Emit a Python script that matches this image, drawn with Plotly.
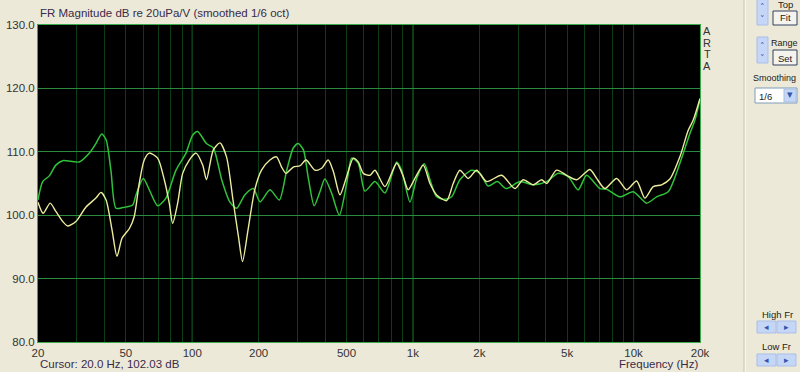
import plotly.graph_objects as go

# ---------------- data ----------------
green_freq = [20, 21.0, 22.5, 24.1, 25.9, 30.8, 34.2, 36.6, 38.9, 40.7, 42.8, 45.1, 48.4, 53.7,
              55.6, 60.0, 63.9, 69.7, 76.0, 84.4, 93.7, 100.4, 105.8, 116, 124.6, 136, 148, 159,
              173, 189, 203, 225, 248, 268, 287, 302, 319, 336, 357, 379, 399, 428, 464, 501,
              528, 565, 606, 673, 747, 844, 889, 970, 1040, 1126, 1195, 1281, 1397, 1498, 1633,
              1846, 2013, 2195, 2412, 2650, 3055, 3510, 4036, 4555, 5057, 5611, 6128, 7038,
              7550, 8670, 9964, 11456, 12718, 14352, 16212, 18004, 18970, 20000]
green_db = [102.4, 105.3, 106.2, 107.9, 108.6, 108.4, 109.8, 111.3, 112.8, 111.9, 107.1, 101.1,
            101.2, 101.6, 103.2, 105.8, 104.0, 101.5, 102.7, 107.1, 109.8, 112.6, 113.2, 111.3,
            110.6, 105.6, 102.1, 101.1, 103.2, 104.2, 102.1, 104.0, 102.4, 107.1, 110.6, 111.3,
            110.3, 105.8, 101.5, 103.7, 105.7, 103.5, 100.0, 105.0, 109.0, 108.2, 103.8, 105.3,
            103.5, 108.4, 107.1, 102.1, 105.8, 108.1, 105.6, 102.9, 102.5, 102.9, 105.6, 107.1,
            106.6, 104.6, 105.3, 104.2, 105.3, 104.8, 105.3, 106.6, 106.1, 104.0, 106.3, 104.2,
            104.1, 102.9, 103.7, 101.9, 102.9, 103.7, 108.2, 112.9, 115.0, 118.2]

yellow_freq = [20, 21.1, 22.7, 24.1, 25.9, 27.3, 29.7, 33.0, 36.6, 38.6, 40.7, 43.3, 45.6, 48.1,
               51.9, 54.6, 57.5, 60.6, 63.9, 69.7, 74.7, 78.7, 81.5, 85.9, 90.5, 97.0, 104,
               111.5, 116, 124.6, 133.5, 143, 153, 162, 169, 179, 192, 206, 225, 241, 254, 266,
               287, 308, 328, 360, 386, 413, 436, 467, 501, 537, 565, 596, 639, 673, 747, 844,
               904, 952, 1021, 1114, 1195, 1281, 1422, 1523, 1633, 1781, 1944, 2158, 2524, 2900,
               3162, 3510, 3830, 4036, 4480, 4973, 5520, 6340, 6801, 7414, 8378, 9300, 10322,
               11254, 12275, 13398, 14610, 16212, 17688, 18636, 20000]
yellow_db = [102.03, 100.3, 101.9, 100.6, 99.0, 98.3, 99.0, 101.3, 102.7, 103.6, 102.4, 97.7,
             93.5, 96.4, 97.9, 99.8, 105.0, 108.7, 109.8, 109.0, 105.6, 101.9, 98.7, 101.9,
             106.6, 108.7, 109.8, 107.9, 105.6, 110.3, 111.4, 109.2, 102.4, 96.6, 92.7, 97.7,
             104.0, 107.1, 108.7, 109.2, 107.6, 106.6, 107.6, 107.8, 108.7, 107.1, 107.4, 108.7,
             106.9, 103.2, 106.1, 109.0, 108.4, 106.6, 106.3, 107.1, 104.5, 108.2, 106.1, 104.0,
             105.8, 107.9, 105.0, 103.2, 102.3, 105.0, 107.1, 105.8, 107.1, 105.3, 106.3, 104.2,
             105.6, 104.8, 105.6, 105.0, 107.1, 106.3, 105.6, 107.2, 105.8, 104.2, 105.8, 104.0,
             105.4, 102.7, 104.5, 104.8, 105.7, 109.2, 113.4, 115.0, 118.4]

grid_freqs = [20, 30, 40, 50, 60, 70, 80, 90, 100, 200, 300, 400, 500, 600, 700, 800, 900,
              1000, 2000, 3000, 4000, 5000, 6000, 7000, 8000, 9000, 10000, 20000]
labeled = {20: "20", 50: "50", 100: "100", 200: "200", 500: "500", 1000: "1k", 2000: "2k",
           5000: "5k", 10000: "10k", 20000: "20k"}
x_ticktext = [labeled.get(f, "") for f in grid_freqs]
decades = [100, 1000, 10000]
y_ticks = [80, 90, 100, 110, 120, 130]
y_ticktext = ["80.0", "90.0", "100.0", "110.0", "120.0", "130.0"]

# ---------------- layout helpers (pixel -> paper) ----------------
L, R, T, B = 38, 700, 25, 342
W, H = 800, 372


def PX(px):
    return (px - L) / (R - L)


def PY(py):
    return (B - py) / (B - T)


BG = "#ECE9D8"
TXT = "#3a2a4a"
GRID_MINOR = "#0b3d15"
GRID_MAJOR = "#2a8a40"

fig = go.Figure()
fig.add_trace(go.Scatter(x=green_freq, y=green_db, mode="lines",
                         line=dict(color="#2fc23a", width=1.5, shape="spline", smoothing=0.7), hoverinfo="skip"))
fig.add_trace(go.Scatter(x=yellow_freq, y=yellow_db, mode="lines",
                         line=dict(color="#ecec9e", width=1.4, shape="spline", smoothing=0.7), hoverinfo="skip"))

shapes = []
for d in decades:
    shapes.append(dict(type="line", xref="x", yref="paper", x0=d, x1=d, y0=0, y1=1, layer="between",
                       line=dict(color=GRID_MAJOR, width=1)))

# right-side control panel decorations
shapes.append(dict(type="line", xref="paper", yref="paper", x0=PX(745), x1=PX(745), y0=PY(0), y1=PY(372),
                   line=dict(color="#ffffff", width=1)))
shapes.append(dict(type="line", xref="paper", yref="paper", x0=PX(744), x1=PX(744), y0=PY(0), y1=PY(372),
                   line=dict(color="#c8c4b0", width=1)))
spin_fill = "#c6d6f7"
spin_line = "#a9bfe8"
for (x0, y0, x1, y1) in [(757, -2, 768, 25), (757, 37, 768, 63)]:
    shapes.append(dict(type="rect", xref="paper", yref="paper", x0=PX(x0), x1=PX(x1), y0=PY(y0), y1=PY(y1),
                       fillcolor=spin_fill, line=dict(color=spin_line, width=1)))
for (x0, y0, x1, y1) in [(773, 11, 797, 25), (773, 50, 797, 65)]:
    shapes.append(dict(type="rect", xref="paper", yref="paper", x0=PX(x0), x1=PX(x1), y0=PY(y0), y1=PY(y1),
                       fillcolor="#f4f3ee", line=dict(color="#33415c", width=1)))
# dropdown
shapes.append(dict(type="rect", xref="paper", yref="paper", x0=PX(755), x1=PX(797), y0=PY(88), y1=PY(103),
                   fillcolor="#ffffff", line=dict(color="#7f9db9", width=1)))
shapes.append(dict(type="rect", xref="paper", yref="paper", x0=PX(784), x1=PX(796), y0=PY(89), y1=PY(102),
                   fillcolor=spin_fill, line=dict(color=spin_line, width=1)))
# High Fr / Low Fr arrow buttons
for (y0, y1) in [(321, 333), (354, 366)]:
    for (x0, x1) in [(757, 776), (777, 796)]:
        shapes.append(dict(type="rect", xref="paper", yref="paper", x0=PX(x0), x1=PX(x1), y0=PY(y0), y1=PY(y1),
                           fillcolor=spin_fill, line=dict(color=spin_line, width=1)))

ann = []


def text(x, y, s, size=11, color=TXT, xanchor="left", font="Liberation Sans"):
    ann.append(dict(xref="paper", yref="paper", x=PX(x), y=PY(y), text=s, showarrow=False,
                    xanchor=xanchor, yanchor="middle", font=dict(size=size, color=color, family=font)))


text(38, 13, "FR Magnitude dB re 20uPa/V (smoothed 1/6 oct)", 11.5)
text(38, 364, "Cursor: 20.0 Hz, 102.03 dB", 11.5)
text(700, 364, "Frequency (Hz)", 11.5, xanchor="right")
for i, ch in enumerate("ARTA"):
    ann.append(dict(xref="paper", yref="paper", x=PX(707), y=PY(31 + i * 11.7), text=ch, showarrow=False,
                    xanchor="center", yanchor="middle", font=dict(size=11, color="#333333", family="Liberation Sans")))
text(776, 5, "Top", 9.5, "#222222")
text(785, 18, "Fit", 9.5, "#222222", "center")
text(784, 43, "Range", 9, "#222222", "center")
text(785, 58, "Set", 9.5, "#222222", "center")
text(775, 78, "Smoothing", 9, "#222222", "center")
text(757, 96, "1/6", 9.5, "#222222")
text(790, 95, "▾", 11, "#3355aa", "center", "DejaVu Sans")
for yc in [8, 47]:
    text(762.5, yc - 1, "˄", 9, "#3355aa", "center", "DejaVu Sans")
    text(762.5, yc + 11, "˅", 9, "#3355aa", "center", "DejaVu Sans")
text(760, 314, "High Fr", 9.5, "#222222")
text(760, 346, "Low Fr", 9.5, "#222222")
for yc in [327, 360]:
    text(766.5, yc, "◂", 9, "#3355aa", "center", "DejaVu Sans")
    text(786.5, yc, "▸", 9, "#3355aa", "center", "DejaVu Sans")

fig.update_layout(
    width=W, height=H,
    margin=dict(l=L, r=W - R, t=T, b=H - B, pad=0, autoexpand=False),
    paper_bgcolor=BG, plot_bgcolor="#000000",
    showlegend=False,
    shapes=shapes, annotations=ann,
    font=dict(family="Liberation Sans", size=11, color="#333333"),
    xaxis=dict(type="log", range=[1.30103, 4.30103], tickvals=grid_freqs, ticktext=x_ticktext,
               showgrid=True, gridcolor=GRID_MINOR, gridwidth=1, zeroline=False, automargin=False,
               showline=True, linecolor="#3aa84c", linewidth=1, mirror=True, ticks="",
               tickfont=dict(size=11.5, color="#333333"), fixedrange=True),
    yaxis=dict(range=[80, 130], tickvals=y_ticks, ticktext=y_ticktext, automargin=False,
               showgrid=True, gridcolor=GRID_MAJOR, gridwidth=1, zeroline=False,
               showline=True, linecolor="#3aa84c", linewidth=1, mirror=True, ticks="",
               tickfont=dict(size=11.5, color="#333333"), fixedrange=True),
)

fig.write_html("out.html")
